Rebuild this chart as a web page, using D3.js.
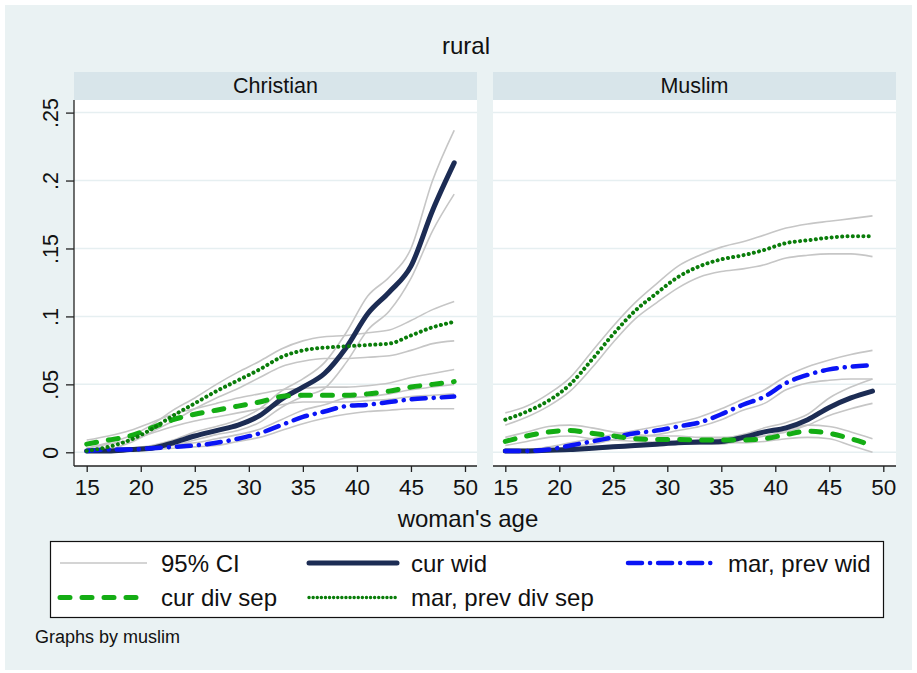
<!DOCTYPE html>
<html>
<head>
<meta charset="utf-8">
<script src="https://cdn.jsdelivr.net/npm/d3@7"></script>
<style>
  html, body { margin: 0; padding: 0; background: #ffffff; }
  svg { display: block; font-family: "Liberation Sans", Arial, Helvetica, sans-serif; }
</style>
</head>
<body>
<svg id="chart" width="917" height="673"></svg>
<script>
// Ages at which the smoothed proportions are evaluated
const ages = [15, 17, 19, 21, 23, 25, 27, 29, 31, 33, 35, 37, 39, 41, 43, 45, 47, 49];

const panelNames = ["Christian", "Muslim"];
const xTicks = [15, 20, 25, 30, 35, 40, 45, 50];
const yTicks = [0, 0.05, 0.1, 0.15, 0.2, 0.25];
const yTickLabels = ["0", ".05", ".1", ".15", ".2", ".25"];

// Christian
const chrCurWid     = [0.001,0.001,0.002,0.003,0.007,0.012,0.016,0.020,0.027,0.039,0.048,0.058,0.077,0.102,0.118,0.137,0.178,0.213];
const chrCurWidLo   = [0.000,0.000,0.001,0.002,0.005,0.009,0.013,0.016,0.022,0.033,0.041,0.047,0.066,0.090,0.104,0.128,0.163,0.190];
const chrCurWidHi   = [0.002,0.002,0.003,0.005,0.009,0.015,0.019,0.024,0.032,0.045,0.054,0.066,0.088,0.115,0.129,0.150,0.200,0.237];
const chrMarWid     = [0.001,0.002,0.002,0.003,0.004,0.005,0.007,0.010,0.014,0.020,0.026,0.030,0.034,0.035,0.037,0.039,0.040,0.041];
const chrMarWidLo   = [0.000,0.001,0.001,0.002,0.003,0.004,0.005,0.008,0.011,0.016,0.021,0.025,0.028,0.030,0.031,0.032,0.032,0.032];
const chrMarWidHi   = [0.002,0.003,0.003,0.004,0.006,0.007,0.010,0.013,0.017,0.024,0.031,0.035,0.040,0.041,0.043,0.046,0.048,0.050];
const chrCurDiv     = [0.006,0.009,0.012,0.018,0.024,0.028,0.031,0.034,0.037,0.041,0.042,0.042,0.042,0.043,0.045,0.048,0.050,0.052];
const chrCurDivLo   = [0.003,0.006,0.009,0.014,0.019,0.023,0.026,0.029,0.032,0.035,0.037,0.037,0.037,0.038,0.039,0.041,0.042,0.043];
const chrCurDivHi   = [0.009,0.012,0.016,0.022,0.028,0.032,0.036,0.040,0.043,0.046,0.047,0.048,0.048,0.049,0.051,0.055,0.058,0.061];
const chrMarDiv     = [0.001,0.004,0.009,0.017,0.027,0.036,0.045,0.053,0.061,0.070,0.075,0.077,0.078,0.079,0.080,0.086,0.092,0.096];
const chrMarDivLo   = [0.000,0.002,0.007,0.015,0.023,0.032,0.040,0.047,0.055,0.063,0.067,0.069,0.069,0.070,0.071,0.075,0.080,0.082];
const chrMarDivHi   = [0.003,0.007,0.012,0.020,0.031,0.040,0.050,0.059,0.067,0.076,0.082,0.085,0.086,0.088,0.090,0.097,0.105,0.111];

// Muslim
const musCurWid     = [0.001,0.001,0.0015,0.002,0.003,0.004,0.005,0.006,0.007,0.0075,0.008,0.011,0.015,0.018,0.024,0.033,0.040,0.045];
const musCurWidLo   = [0.000,0.000,0.001,0.001,0.002,0.003,0.004,0.005,0.006,0.006,0.006,0.009,0.012,0.015,0.020,0.027,0.032,0.036];
const musCurWidHi   = [0.002,0.002,0.002,0.003,0.004,0.005,0.006,0.007,0.008,0.009,0.010,0.013,0.018,0.022,0.028,0.040,0.048,0.054];
const musMarWid     = [0.001,0.001,0.002,0.005,0.008,0.011,0.014,0.016,0.019,0.022,0.028,0.035,0.041,0.051,0.057,0.061,0.063,0.064];
const musMarWidLo   = [0.000,0.000,0.001,0.004,0.006,0.009,0.011,0.013,0.016,0.019,0.024,0.031,0.036,0.046,0.051,0.053,0.054,0.054];
const musMarWidHi   = [0.002,0.002,0.004,0.007,0.010,0.013,0.016,0.019,0.022,0.026,0.032,0.039,0.046,0.056,0.063,0.068,0.072,0.075];
const musCurDiv     = [0.008,0.012,0.015,0.016,0.014,0.012,0.010,0.0095,0.0095,0.009,0.009,0.009,0.010,0.013,0.0155,0.014,0.010,0.005];
const musCurDivLo   = [0.005,0.008,0.011,0.012,0.010,0.009,0.008,0.0075,0.0075,0.007,0.007,0.007,0.008,0.010,0.011,0.010,0.005,0.000];
const musCurDivHi   = [0.011,0.015,0.019,0.020,0.018,0.015,0.013,0.012,0.012,0.011,0.011,0.011,0.012,0.016,0.020,0.019,0.015,0.010];
const musMarDiv     = [0.024,0.030,0.038,0.050,0.068,0.087,0.104,0.117,0.129,0.137,0.142,0.145,0.149,0.154,0.156,0.158,0.159,0.159];
const musMarDivLo   = [0.020,0.026,0.034,0.045,0.062,0.081,0.098,0.110,0.121,0.129,0.133,0.135,0.138,0.143,0.145,0.146,0.146,0.144];
const musMarDivHi   = [0.029,0.034,0.043,0.055,0.074,0.093,0.110,0.124,0.137,0.145,0.151,0.155,0.160,0.165,0.168,0.170,0.172,0.174];

// line styles per series
const styles = {
  "95% CI":            { color: "#c6c6c6", width: 1.6, dash: null,            cap: "butt" },
  "cur wid":           { color: "#1c2c54", width: 5,   dash: null,            cap: "round" },
  "mar, prev wid":     { color: "#0a14f5", width: 4.5, dash: "14 8 0.1 8",    cap: "round" },
  "cur div sep":       { color: "#14ad14", width: 5,   dash: "10 12",         cap: "round" },
  "mar, prev div sep": { color: "#0a7d0a", width: 4,   dash: "0.1 5.2",       cap: "round" }
};

const panelData = [
  { name: panelNames[0], series: [
    { name: "cur wid", v: chrCurWid, lo: chrCurWidLo, hi: chrCurWidHi },
    { name: "mar, prev wid", v: chrMarWid, lo: chrMarWidLo, hi: chrMarWidHi },
    { name: "cur div sep", v: chrCurDiv, lo: chrCurDivLo, hi: chrCurDivHi },
    { name: "mar, prev div sep", v: chrMarDiv, lo: chrMarDivLo, hi: chrMarDivHi }
  ]},
  { name: panelNames[1], series: [
    { name: "cur wid", v: musCurWid, lo: musCurWidLo, hi: musCurWidHi },
    { name: "mar, prev wid", v: musMarWid, lo: musMarWidLo, hi: musMarWidHi },
    { name: "cur div sep", v: musCurDiv, lo: musCurDivLo, hi: musCurDivHi },
    { name: "mar, prev div sep", v: musMarDiv, lo: musMarDivLo, hi: musMarDivHi }
  ]}
];

const svg = d3.select("#chart");
const W = 917, H = 673;
const BG = "#eaf2f3", HEAD = "#d8e5ea", GRID = "#e6eff1";
const FONT = "Liberation Sans, Arial, sans-serif";

svg.append("rect").attr("x", 5).attr("y", 5).attr("width", W - 10).attr("height", H - 8).attr("fill", BG);

// title
svg.append("text").attr("x", 466).attr("y", 54).attr("text-anchor", "middle")
  .attr("font-size", 24).attr("fill", "#111").text("rural");

// layout of the two panels
const panelBox = [
  { left: 74,  right: 477, x0: 86.7,  x1: 465.0 },
  { left: 493, right: 896, x0: 505.3, x1: 883.3 }
];
const headTop = 72, plotTop = 100, plotBottom = 466;
const y = d3.scaleLinear().domain([0, 0.25]).range([452.3, 112.6]);

panelData.forEach((p, i) => {
  const b = panelBox[i];
  const x = d3.scaleLinear().domain([15, 50]).range([b.x0, b.x1]);
  const g = svg.append("g");

  // header strip
  g.append("rect").attr("x", b.left).attr("y", headTop).attr("width", b.right - b.left)
    .attr("height", plotTop - headTop).attr("fill", HEAD);
  g.append("text").attr("x", (b.left + b.right) / 2).attr("y", 93).attr("text-anchor", "middle")
    .attr("font-size", 21.5).attr("fill", "#111").text(p.name);

  // plot region
  g.append("rect").attr("x", b.left).attr("y", plotTop).attr("width", b.right - b.left)
    .attr("height", plotBottom - plotTop).attr("fill", "#ffffff");

  // gridlines
  g.selectAll("line.grid").data(yTicks).join("line").attr("class", "grid")
    .attr("x1", b.left).attr("x2", b.right)
    .attr("y1", d => y(d)).attr("y2", d => y(d))
    .attr("stroke", GRID).attr("stroke-width", 1.5);

  const line = d3.line().x((d, k) => x(ages[k])).y(d => y(d)).curve(d3.curveMonotoneX);

  // confidence bounds as thin lines
  p.series.forEach(s => {
    [s.lo, s.hi].forEach(arr => {
      g.append("path").attr("d", line(arr)).attr("fill", "none")
        .attr("stroke", styles["95% CI"].color).attr("stroke-width", styles["95% CI"].width);
    });
  });

  // point estimates
  p.series.forEach(s => {
    const st = styles[s.name];
    g.append("path").attr("d", line(s.v)).attr("fill", "none")
      .attr("stroke", st.color).attr("stroke-width", st.width)
      .attr("stroke-linecap", st.cap).attr("stroke-linejoin", "round")
      .attr("stroke-dasharray", st.dash);
  });

  // x axis
  const xAxis = d3.axisBottom(x).tickValues(xTicks).tickSize(6).tickPadding(5).tickSizeOuter(0);
  const ax = g.append("g").attr("transform", `translate(0,${plotBottom})`).call(xAxis);
  ax.select(".domain").remove();
  ax.append("line").attr("x1", b.left).attr("x2", b.right).attr("y1", 0).attr("y2", 0)
    .attr("stroke", "#222").attr("stroke-width", 1.3);
  ax.selectAll(".tick line").attr("stroke", "#222").attr("stroke-width", 1.3);
  ax.selectAll(".tick text").attr("font-size", 22.5).attr("fill", "#111")
    .attr("font-family", FONT).attr("dy", "0.78em");

  // y axis on the first panel only
  if (i === 0) {
    const yAxis = d3.axisLeft(y).tickValues(yTicks).tickFormat((d, k) => yTickLabels[k])
      .tickSize(8).tickPadding(4).tickSizeOuter(0);
    const ay = g.append("g").attr("transform", `translate(${b.left},0)`).call(yAxis);
    ay.select(".domain").remove();
    ay.append("line").attr("x1", 0).attr("x2", 0).attr("y1", plotTop).attr("y2", plotBottom)
      .attr("stroke", "#222").attr("stroke-width", 1.3);
    ay.selectAll(".tick line").attr("stroke", "#222").attr("stroke-width", 1.3);
    ay.selectAll(".tick text")
      .attr("font-size", 21.5).attr("fill", "#111")
      .attr("font-family", FONT)
      .attr("text-anchor", "middle").attr("dy", null).attr("x", null)
      .attr("transform", "translate(-16,0) rotate(-90)");
  }
});

// x axis title
svg.append("text").attr("x", 468).attr("y", 527).attr("text-anchor", "middle")
  .attr("font-size", 24).attr("fill", "#111").text("woman's age");

// legend
const lg = svg.append("g");
lg.append("rect").attr("x", 50.5).attr("y", 541.5).attr("width", 833).attr("height", 76)
  .attr("fill", "#ffffff").attr("stroke", "#111").attr("stroke-width", 1.2);
const legendItems = [
  { name: "95% CI",            col: 0, row: 0 },
  { name: "cur wid",           col: 1, row: 0 },
  { name: "mar, prev wid",     col: 2, row: 0 },
  { name: "cur div sep",       col: 0, row: 1 },
  { name: "mar, prev div sep", col: 1, row: 1 }
];
const colX = [{ l0: 60, l1: 147, t: 161 }, { l0: 309, l1: 397, t: 411 }, { l0: 628, l1: 715, t: 728 }];
const rowY = [563, 597.5];
legendItems.forEach(it => {
  const c = colX[it.col], yy = rowY[it.row], st = styles[it.name];
  const dotted = it.name === "mar, prev div sep";
  lg.append("line").attr("x1", c.l0).attr("x2", c.l1).attr("y1", yy).attr("y2", yy)
    .attr("stroke", st.color).attr("stroke-width", dotted ? 3.4 : st.width)
    .attr("stroke-linecap", st.cap)
    .attr("stroke-dasharray", dotted ? "0.1 4" : st.dash);
  lg.append("text").attr("x", c.t).attr("y", yy + 8.5).attr("font-size", 24).attr("fill", "#111").text(it.name);
});

// note
svg.append("text").attr("x", 35).attr("y", 643).attr("font-size", 18).attr("fill", "#111").text("Graphs by muslim");
</script>
</body>
</html>
